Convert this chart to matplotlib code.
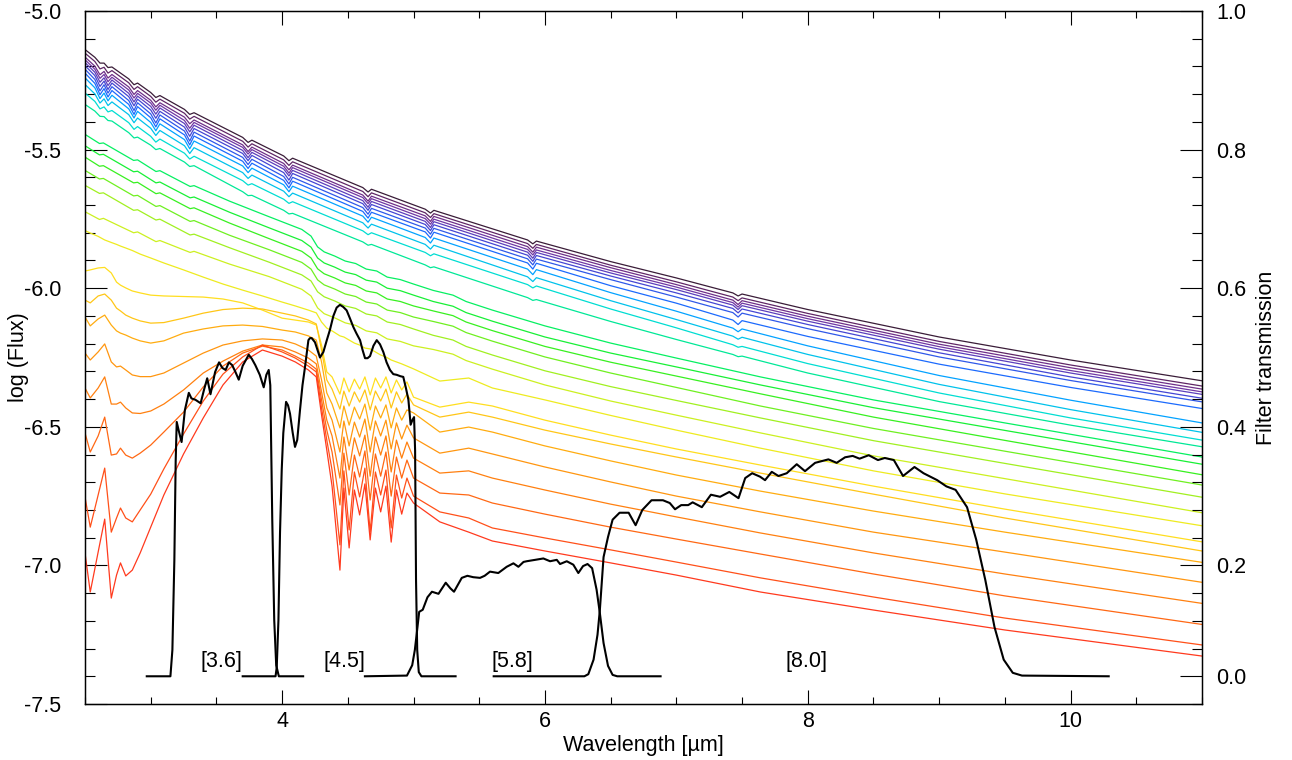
import numpy as np
import matplotlib.pyplot as plt
from matplotlib.colors import LinearSegmentedColormap
from matplotlib.ticker import MultipleLocator, FixedLocator, FixedFormatter

plt.rcParams['font.family'] = ['Liberation Sans', 'DejaVu Sans']
plt.rcParams['axes.unicode_minus'] = False

# --- model spectra, log(Flux) ---
# hot models (top 12 curves, with hydrogen lines)
wl_hot = [2.50, 2.575, 2.614, 2.645, 2.675, 2.705, 2.833, 2.873, 2.90, 3.00, 3.039, 3.07, 3.257, 3.297,
          3.33, 3.70, 3.741, 3.77, 4.012, 4.052, 4.08, 4.614, 4.654, 4.68, 5.089, 5.129, 5.155, 5.868,
          5.908, 5.935, 6.5, 7.0, 7.43, 7.47, 7.50, 8.0, 9.0, 10.0, 11.0]
flux_hot = [
    [-5.139, -5.167, -5.188, -5.188, -5.204, -5.202, -5.245, -5.266, -5.260, -5.294, -5.312, -5.305, -5.355, -5.373, -5.367, -5.456, -5.474, -5.466, -5.523, -5.540, -5.531, -5.637, -5.653, -5.643, -5.715, -5.729, -5.719, -5.826, -5.840, -5.830, -5.904, -5.963, -6.017, -6.028, -6.021, -6.077, -6.176, -6.259, -6.334],
    [-5.152, -5.182, -5.209, -5.203, -5.224, -5.215, -5.259, -5.283, -5.273, -5.308, -5.329, -5.318, -5.369, -5.390, -5.380, -5.470, -5.491, -5.479, -5.537, -5.557, -5.544, -5.651, -5.670, -5.656, -5.728, -5.745, -5.731, -5.839, -5.856, -5.842, -5.917, -5.977, -6.032, -6.045, -6.035, -6.091, -6.192, -6.277, -6.353],
    [-5.166, -5.199, -5.230, -5.218, -5.242, -5.229, -5.274, -5.301, -5.287, -5.322, -5.346, -5.331, -5.383, -5.407, -5.393, -5.483, -5.507, -5.491, -5.550, -5.573, -5.556, -5.664, -5.686, -5.668, -5.739, -5.759, -5.741, -5.850, -5.870, -5.852, -5.926, -5.987, -6.043, -6.059, -6.045, -6.101, -6.202, -6.287, -6.364],
    [-5.176, -5.210, -5.243, -5.229, -5.255, -5.239, -5.285, -5.314, -5.297, -5.332, -5.358, -5.340, -5.395, -5.423, -5.402, -5.492, -5.516, -5.500, -5.560, -5.585, -5.565, -5.673, -5.695, -5.677, -5.749, -5.769, -5.751, -5.860, -5.880, -5.862, -5.936, -5.996, -6.052, -6.068, -6.054, -6.110, -6.211, -6.297, -6.374],
    [-5.186, -5.221, -5.257, -5.241, -5.269, -5.249, -5.297, -5.328, -5.307, -5.344, -5.372, -5.350, -5.406, -5.436, -5.412, -5.503, -5.529, -5.510, -5.570, -5.595, -5.575, -5.684, -5.708, -5.687, -5.759, -5.781, -5.760, -5.870, -5.892, -5.871, -5.945, -6.005, -6.061, -6.077, -6.063, -6.119, -6.220, -6.306, -6.383],
    [-5.197, -5.233, -5.272, -5.253, -5.283, -5.260, -5.309, -5.342, -5.318, -5.357, -5.387, -5.362, -5.419, -5.452, -5.424, -5.514, -5.540, -5.521, -5.583, -5.610, -5.586, -5.695, -5.719, -5.698, -5.770, -5.792, -5.771, -5.881, -5.903, -5.882, -5.956, -6.017, -6.073, -6.089, -6.075, -6.131, -6.233, -6.320, -6.397],
    [-5.210, -5.247, -5.288, -5.266, -5.296, -5.273, -5.323, -5.359, -5.331, -5.371, -5.404, -5.375, -5.433, -5.469, -5.437, -5.528, -5.554, -5.535, -5.597, -5.624, -5.600, -5.709, -5.733, -5.712, -5.783, -5.805, -5.784, -5.894, -5.916, -5.895, -5.969, -6.032, -6.088, -6.104, -6.090, -6.146, -6.248, -6.333, -6.410],
    [-5.224, -5.261, -5.302, -5.280, -5.310, -5.287, -5.337, -5.373, -5.345, -5.385, -5.418, -5.389, -5.447, -5.483, -5.451, -5.542, -5.568, -5.549, -5.611, -5.638, -5.614, -5.723, -5.747, -5.726, -5.797, -5.819, -5.798, -5.909, -5.931, -5.910, -5.991, -6.054, -6.115, -6.131, -6.117, -6.174, -6.274, -6.358, -6.434],
    [-5.241, -5.277, -5.316, -5.296, -5.324, -5.304, -5.353, -5.386, -5.362, -5.402, -5.432, -5.407, -5.464, -5.497, -5.469, -5.559, -5.583, -5.567, -5.627, -5.652, -5.632, -5.740, -5.762, -5.744, -5.817, -5.837, -5.819, -5.931, -5.951, -5.933, -6.016, -6.083, -6.144, -6.157, -6.147, -6.208, -6.315, -6.404, -6.486],
    [-5.265, -5.299, -5.332, -5.317, -5.341, -5.328, -5.374, -5.403, -5.386, -5.423, -5.449, -5.431, -5.486, -5.514, -5.493, -5.583, -5.604, -5.592, -5.650, -5.670, -5.657, -5.764, -5.783, -5.769, -5.842, -5.859, -5.845, -5.959, -5.976, -5.962, -6.045, -6.113, -6.173, -6.184, -6.177, -6.239, -6.347, -6.438, -6.520],
    [-5.296, -5.326, -5.353, -5.346, -5.364, -5.359, -5.403, -5.427, -5.417, -5.452, -5.473, -5.462, -5.513, -5.534, -5.524, -5.612, -5.628, -5.623, -5.679, -5.694, -5.688, -5.793, -5.807, -5.800, -5.871, -5.883, -5.876, -5.987, -5.999, -5.992, -6.075, -6.143, -6.204, -6.213, -6.210, -6.272, -6.378, -6.468, -6.548],
    [-5.337, -5.361, -5.380, -5.381, -5.395, -5.397, -5.439, -5.458, -5.455, -5.484, -5.500, -5.496, -5.545, -5.561, -5.558, -5.652, -5.666, -5.665, -5.719, -5.732, -5.730, -5.833, -5.845, -5.842, -5.916, -5.926, -5.923, -6.034, -6.044, -6.041, -6.120, -6.185, -6.239, -6.247, -6.245, -6.306, -6.409, -6.494, -6.572],
]

# warm models (green / yellow-green curves)
wl_warm = [2.50, 2.61, 2.64, 2.87, 2.90, 3.04, 3.07, 3.30, 3.33, 3.60, 3.90, 4.15, 4.22, 4.27, 4.32, 4.40, 4.48,
           4.56, 4.64, 4.72, 4.80, 4.90, 5.00, 5.15, 5.30, 5.40, 5.60, 6.00, 6.50, 7.00, 7.64, 8.50, 9.50, 11.0]
flux_warm = [
    [-5.445, -5.478, -5.476, -5.539, -5.537, -5.579, -5.576, -5.633, -5.630, -5.686, -5.742, -5.788, -5.812, -5.851, -5.869, -5.884, -5.902, -5.911, -5.931, -5.938, -5.960, -5.969, -5.985, -6.008, -6.025, -6.048, -6.079, -6.136, -6.198, -6.252, -6.320, -6.403, -6.486, -6.609],
    [-5.486, -5.519, -5.517, -5.580, -5.578, -5.620, -5.617, -5.674, -5.671, -5.726, -5.782, -5.828, -5.852, -5.891, -5.909, -5.924, -5.942, -5.951, -5.971, -5.978, -6.000, -6.009, -6.025, -6.048, -6.065, -6.088, -6.119, -6.176, -6.234, -6.284, -6.349, -6.431, -6.513, -6.635],
    [-5.527, -5.560, -5.558, -5.620, -5.618, -5.659, -5.656, -5.713, -5.710, -5.765, -5.821, -5.867, -5.891, -5.930, -5.948, -5.963, -5.981, -5.990, -6.010, -6.017, -6.039, -6.048, -6.064, -6.082, -6.099, -6.122, -6.153, -6.210, -6.267, -6.317, -6.381, -6.465, -6.549, -6.673],
    [-5.575, -5.606, -5.604, -5.667, -5.665, -5.705, -5.702, -5.759, -5.756, -5.809, -5.861, -5.907, -5.931, -5.970, -5.988, -6.003, -6.021, -6.030, -6.050, -6.057, -6.079, -6.088, -6.104, -6.120, -6.137, -6.160, -6.191, -6.248, -6.306, -6.358, -6.425, -6.506, -6.588, -6.710],
    [-5.629, -5.658, -5.656, -5.719, -5.717, -5.754, -5.751, -5.808, -5.805, -5.854, -5.906, -5.952, -5.974, -6.013, -6.031, -6.046, -6.064, -6.073, -6.093, -6.100, -6.122, -6.131, -6.147, -6.170, -6.187, -6.210, -6.241, -6.298, -6.355, -6.405, -6.468, -6.550, -6.632, -6.754],
    [-5.724, -5.752, -5.748, -5.800, -5.797, -5.832, -5.828, -5.871, -5.867, -5.913, -5.958, -6.004, -6.028, -6.071, -6.092, -6.107, -6.125, -6.134, -6.154, -6.161, -6.183, -6.192, -6.208, -6.221, -6.238, -6.261, -6.292, -6.349, -6.407, -6.458, -6.522, -6.605, -6.687, -6.810],
]

# cool models (yellow to red curves, molecular bands)
wl_cool = [2.50, 2.54, 2.60, 2.65, 2.70, 2.74, 2.77, 2.81, 2.86, 2.92, 3.00, 3.10, 3.25, 3.40, 3.55, 3.70,
           3.85, 4.00, 4.10, 4.20, 4.26, 4.30, 4.34, 4.38, 4.44, 4.47, 4.51, 4.55, 4.59, 4.63, 4.67, 4.71,
           4.75, 4.79, 4.83, 4.87, 4.91, 4.95, 5.00, 5.20, 5.42, 5.60, 6.00, 6.50, 7.00, 7.64, 8.50, 9.50, 11.0]
flux_cool = [
    [-5.792, -5.801, -5.813, -5.826, -5.835, -5.842, -5.848, -5.855, -5.864, -5.877, -5.891, -5.909, -5.934, -5.960, -5.985, -6.007, -6.028, -6.050, -6.064, -6.079, -6.089, -6.122,
     -6.144, -6.154, -6.172, -6.176, -6.187, -6.198, -6.205, -6.216, -6.219, -6.230, -6.241, -6.248, -6.259, -6.266, -6.273, -6.281,
     -6.291, -6.335, -6.324, -6.360, -6.403, -6.459, -6.512, -6.577, -6.659, -6.742, -6.857],
    [-5.938, -5.934, -5.927, -5.925, -5.945, -5.978, -5.989, -5.999, -6.010, -6.017, -6.025, -6.028, -6.030, -6.032, -6.039, -6.053, -6.079, -6.108, -6.115, -6.122, -6.133, -6.205,
     -6.302, -6.320, -6.382, -6.324, -6.374, -6.328, -6.364, -6.320, -6.385, -6.324, -6.360, -6.320, -6.378, -6.331, -6.367, -6.338,
     -6.393, -6.429, -6.411, -6.425, -6.476, -6.530, -6.580, -6.638, -6.714, -6.797, -6.915],
    [-6.043, -6.053, -6.028, -6.021, -6.043, -6.072, -6.082, -6.097, -6.108, -6.118, -6.126, -6.124, -6.108, -6.090, -6.077, -6.072, -6.075, -6.090, -6.100, -6.115, -6.129, -6.223,
     -6.331, -6.364, -6.436, -6.371, -6.425, -6.374, -6.411, -6.367, -6.439, -6.371, -6.407, -6.364, -6.432, -6.374, -6.414, -6.382,
     -6.421, -6.465, -6.447, -6.465, -6.512, -6.562, -6.609, -6.667, -6.743, -6.829, -6.948],
    [-6.104, -6.136, -6.111, -6.097, -6.133, -6.154, -6.162, -6.169, -6.180, -6.190, -6.198, -6.190, -6.162, -6.147, -6.136, -6.133, -6.138, -6.151, -6.158, -6.172, -6.187, -6.266,
     -6.378, -6.418, -6.504, -6.425, -6.494, -6.429, -6.472, -6.418, -6.512, -6.425, -6.468, -6.421, -6.504, -6.432, -6.476, -6.439,
     -6.450, -6.519, -6.501, -6.519, -6.569, -6.623, -6.674, -6.732, -6.804, -6.880, -6.989],
    [-6.234, -6.259, -6.230, -6.201, -6.266, -6.284, -6.281, -6.295, -6.313, -6.319, -6.319, -6.306, -6.270, -6.234, -6.205, -6.190, -6.183, -6.187, -6.201, -6.223, -6.245, -6.331,
     -6.432, -6.476, -6.591, -6.479, -6.569, -6.483, -6.537, -6.472, -6.591, -6.479, -6.533, -6.476, -6.580, -6.486, -6.544, -6.494,
     -6.540, -6.595, -6.577, -6.598, -6.645, -6.699, -6.750, -6.807, -6.880, -6.952, -7.061],
    [-6.360, -6.396, -6.360, -6.320, -6.418, -6.418, -6.411, -6.432, -6.450, -6.452, -6.443, -6.418, -6.367, -6.306, -6.263, -6.227, -6.205, -6.212, -6.230, -6.252, -6.273, -6.374,
     -6.476, -6.533, -6.685, -6.537, -6.656, -6.540, -6.605, -6.530, -6.678, -6.537, -6.602, -6.533, -6.663, -6.548, -6.613, -6.555,
     -6.613, -6.667, -6.659, -6.685, -6.728, -6.779, -6.825, -6.883, -6.955, -7.031, -7.137],
    [-6.522, -6.591, -6.533, -6.465, -6.602, -6.598, -6.577, -6.602, -6.613, -6.595, -6.566, -6.519, -6.447, -6.356, -6.281, -6.234, -6.209, -6.223, -6.245, -6.270, -6.292, -6.403,
     -6.512, -6.591, -6.782, -6.595, -6.746, -6.602, -6.681, -6.587, -6.764, -6.598, -6.678, -6.591, -6.750, -6.609, -6.685, -6.620,
     -6.685, -6.739, -6.746, -6.775, -6.815, -6.862, -6.905, -6.959, -7.031, -7.110, -7.213],
    [-6.753, -6.862, -6.746, -6.649, -6.880, -6.829, -6.793, -6.829, -6.843, -6.800, -6.743, -6.652, -6.526, -6.407, -6.310, -6.248, -6.205, -6.230, -6.252, -6.281, -6.302, -6.432,
     -6.548, -6.656, -6.926, -6.659, -6.872, -6.663, -6.753, -6.649, -6.880, -6.663, -6.746, -6.656, -6.865, -6.674, -6.757, -6.685,
     -6.750, -6.807, -6.829, -6.865, -6.901, -6.944, -6.988, -7.045, -7.114, -7.190, -7.287],
    [-6.955, -7.096, -6.952, -6.833, -7.118, -7.035, -6.991, -7.038, -7.017, -6.955, -6.862, -6.746, -6.598, -6.468, -6.349, -6.266, -6.223, -6.245, -6.266, -6.295, -6.320, -6.457,
     -6.584, -6.714, -7.017, -6.721, -6.937, -6.728, -6.818, -6.706, -6.908, -6.721, -6.807, -6.714, -6.916, -6.728, -6.815, -6.739,
     -6.775, -6.843, -6.880, -6.912, -6.948, -6.991, -7.035, -7.096, -7.161, -7.233, -7.327],
]

# --- IRAC filter transmission curves ---
wl_f36 = [2.97, 3.13, 3.15, 3.165, 3.18, 3.19, 3.198, 3.215, 3.235, 3.26, 3.29, 3.31, 3.34, 3.38, 3.405, 3.43,
          3.455, 3.49, 3.52, 3.545, 3.57, 3.595, 3.62, 3.645, 3.67, 3.70, 3.746, 3.77, 3.796, 3.83, 3.86, 3.88,
          3.898, 3.91, 3.925, 3.94, 3.955, 3.975, 4.16]
tr_f36 = [0.0, 0.0, 0.0, 0.038, 0.168, 0.310, 0.367, 0.353, 0.338, 0.384, 0.409, 0.401, 0.399, 0.394, 0.413, 0.430,
          0.407, 0.439, 0.453, 0.445, 0.442, 0.453, 0.449, 0.439, 0.428, 0.448, 0.464, 0.458, 0.449, 0.435, 0.417, 0.435,
          0.442, 0.420, 0.226, 0.081, 0.016, 0.0, 0.0]

wl_f45 = [3.70, 3.95, 3.959, 3.972, 3.984, 3.997, 4.009, 4.03, 4.045, 4.06, 4.08, 4.098, 4.115, 4.136, 4.155, 4.174,
          4.20, 4.212, 4.225, 4.25, 4.288, 4.314, 4.34, 4.364, 4.39, 4.415, 4.44, 4.465, 4.491, 4.515, 4.542, 4.565,
          4.593, 4.612, 4.631, 4.65, 4.669, 4.695, 4.72, 4.745, 4.77, 4.795, 4.821, 4.846, 4.872, 4.90, 4.922, 4.942,
          4.961, 4.978, 4.992, 5.004, 5.012, 5.019, 5.028, 5.04, 5.06, 5.32]
tr_f45 = [0.0, 0.0, 0.013, 0.081, 0.207, 0.298, 0.351, 0.396, 0.391, 0.379, 0.352, 0.331, 0.341, 0.384, 0.420, 0.446,
          0.485, 0.488, 0.488, 0.482, 0.460, 0.468, 0.485, 0.500, 0.520, 0.532, 0.536, 0.533, 0.528, 0.517, 0.504, 0.495,
          0.485, 0.471, 0.459, 0.459, 0.462, 0.477, 0.485, 0.479, 0.468, 0.453, 0.442, 0.436, 0.435, 0.433, 0.432, 0.416,
          0.399, 0.363, 0.370, 0.374, 0.326, 0.139, 0.038, 0.006, 0.0, 0.0]

wl_f58 = [4.63, 4.95, 4.99, 5.01, 5.03, 5.043, 5.07, 5.106, 5.14, 5.19, 5.245, 5.28, 5.308, 5.367, 5.41, 5.454,
          5.506, 5.541, 5.582, 5.645, 5.709, 5.76, 5.798, 5.837, 5.861, 5.925, 5.988, 6.039, 6.09, 6.115, 6.166,
          6.216, 6.254, 6.29, 6.324, 6.359, 6.393, 6.418, 6.446, 6.48, 6.515, 6.55, 6.88]
tr_f58 = [0.0, 0.001, 0.016, 0.038, 0.071, 0.093, 0.096, 0.114, 0.122, 0.119, 0.135, 0.127, 0.122, 0.142, 0.145, 0.143,
          0.142, 0.145, 0.151, 0.149, 0.158, 0.163, 0.158, 0.165, 0.166, 0.168, 0.170, 0.166, 0.168, 0.162, 0.166,
          0.161, 0.149, 0.159, 0.162, 0.156, 0.125, 0.091, 0.048, 0.015, 0.002, 0.0, 0.0]

wl_f80 = [5.61, 6.30, 6.33, 6.37, 6.40, 6.418, 6.446, 6.48, 6.515, 6.568, 6.637, 6.69, 6.741, 6.811, 6.898, 6.95,
          6.99, 7.037, 7.09, 7.124, 7.194, 7.263, 7.333, 7.403, 7.473, 7.524, 7.577, 7.637, 7.675, 7.726, 7.777,
          7.84, 7.916, 7.979, 8.056, 8.157, 8.22, 8.284, 8.342, 8.394, 8.464, 8.534, 8.586, 8.655, 8.725, 8.812,
          8.881, 8.985, 9.055, 9.125, 9.212, 9.282, 9.351, 9.421, 9.491, 9.56, 9.63, 10.29]
tr_f80 = [0.0, 0.0, 0.003, 0.024, 0.060, 0.096, 0.172, 0.201, 0.226, 0.236, 0.236, 0.218, 0.240, 0.254, 0.254, 0.250,
          0.241, 0.247, 0.247, 0.251, 0.244, 0.262, 0.259, 0.266, 0.257, 0.286, 0.293, 0.288, 0.283, 0.295, 0.289,
          0.293, 0.306, 0.296, 0.308, 0.313, 0.308, 0.316, 0.318, 0.314, 0.319, 0.312, 0.315, 0.312, 0.289, 0.302,
          0.293, 0.283, 0.274, 0.269, 0.244, 0.197, 0.139, 0.071, 0.024, 0.005, 0.001, 0.0]

filter_names = ['[3.6]', '[4.5]', '[5.8]', '[8.0]']
filter_label_x = [3.535, 4.471, 5.75, 7.987]

# colour table running dark purple -> blue -> green -> yellow -> red
cmap = LinearSegmentedColormap.from_list('spec', [
    (0.00, '#3a1d38'), (0.05, '#6e2a78'), (0.12, '#7038a8'), (0.20, '#4048d8'),
    (0.27, '#1a6cff'), (0.31, '#00a8ff'), (0.38, '#00dcd8'), (0.45, '#00f070'),
    (0.52, '#20f020'), (0.60, '#90f020'), (0.68, '#e8f020'), (0.73, '#ffe020'),
    (0.80, '#ffb010'), (0.90, '#ff7810'), (1.00, '#ff3a1e')])

fs = 15.5

fig = plt.figure(figsize=(12.92, 7.6), dpi=100)
ax = fig.add_axes([85 / 1292, 1 - 704 / 760, 1117 / 1292, 693 / 760])

spectra = flux_hot + flux_warm + flux_cool
grids = [wl_hot] * len(flux_hot) + [wl_warm] * len(flux_warm) + [wl_cool] * len(flux_cool)
colors = cmap(np.linspace(0, 1, len(spectra)))
for wl, fl, c in zip(grids, spectra, colors):
    ax.plot(wl, fl, color=c, lw=0.9)

ax.set_xlim(2.5, 11.0)
ax.set_ylim(-7.5, -5.0)
ax.xaxis.set_major_locator(MultipleLocator(2))
ax.xaxis.set_minor_locator(MultipleLocator(0.5))
ax.yaxis.set_major_locator(MultipleLocator(0.5))
ax.yaxis.set_minor_locator(MultipleLocator(0.1))
ax.yaxis.set_major_formatter('{x:.1f}')
ax.tick_params(axis='x', which='both', direction='in', top=True, bottom=True, width=0.8,
               labelsize=fs, pad=5)
ax.tick_params(axis='x', which='major', length=10)
ax.tick_params(axis='x', which='minor', length=5)
ax.tick_params(axis='y', which='both', direction='in', left=True, right=False, width=0.8,
               labelsize=fs, pad=17)
ax.tick_params(axis='y', which='major', length=15.5)
ax.tick_params(axis='y', which='minor', length=7.5)
for s in ax.spines.values():
    s.set_linewidth(1.0)

ax.set_xlabel('Wavelength [µm]', fontsize=fs)
ax.xaxis.set_label_coords(0.5, -0.045)
ax.set_ylabel('log (Flux)', fontsize=fs)
ax.yaxis.set_label_coords(-0.050, 0.5)

for name, x in zip(filter_names, filter_label_x):
    ax.text(x, -7.345, name, ha='center', va='center', fontsize=fs)

# right axis: filter transmission
twin = ax.twinx()
twin.set_ylim(-0.04, 0.96)
for wl, tr in [(wl_f36, tr_f36), (wl_f45, tr_f45), (wl_f58, tr_f58), (wl_f80, tr_f80)]:
    twin.plot(wl, tr, color='black', lw=1.5)
twin.yaxis.set_major_locator(FixedLocator([0.0, 0.16, 0.36, 0.56, 0.76, 0.96]))
twin.yaxis.set_major_formatter(FixedFormatter(['0.0', '0.2', '0.4', '0.6', '0.8', '1.0']))
twin.yaxis.set_minor_locator(FixedLocator(np.arange(-0.04, 0.97, 0.04)))
twin.tick_params(axis='y', which='both', direction='in', right=True, left=False, width=0.8,
                 labelsize=fs, pad=10)
twin.tick_params(axis='y', which='major', length=15.5)
twin.tick_params(axis='y', which='minor', length=7.5)
twin.set_ylabel('Filter transmission', fontsize=fs)
twin.yaxis.set_label_coords(1.048, 0.5)

fig.savefig('out.png', dpi=100)
